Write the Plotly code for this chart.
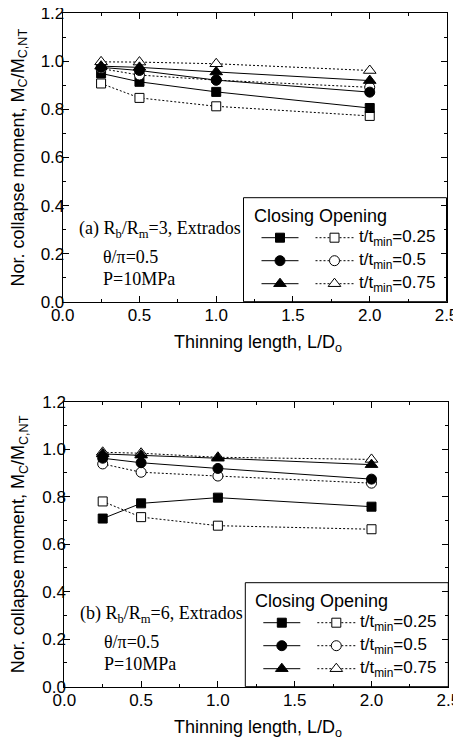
import plotly.graph_objects as go

# page body has an 8px margin: figure is drawn at (8, 8) in the 461x745 window
OFF = 8
W, H = 461 - OFF, 745 - OFF

# ---------------- data ----------------
L_over_D = [0.25, 0.5, 1.0, 2.0]

# panel (a) Rb/Rm=3
a_closing_025 = [0.950, 0.915, 0.873, 0.806]
a_opening_025 = [0.908, 0.848, 0.813, 0.773]
a_closing_05 = [0.975, 0.962, 0.922, 0.872]
a_opening_05 = [0.970, 0.943, 0.922, 0.892]
a_closing_075 = [0.980, 0.975, 0.956, 0.920]
a_opening_075 = [0.998, 0.997, 0.990, 0.962]

# panel (b) Rb/Rm=6
b_closing_025 = [0.708, 0.772, 0.796, 0.758]
b_opening_025 = [0.780, 0.714, 0.678, 0.663]
b_closing_05 = [0.962, 0.943, 0.919, 0.874]
b_opening_05 = [0.938, 0.903, 0.887, 0.857]
b_closing_075 = [0.980, 0.975, 0.962, 0.935]
b_opening_075 = [0.987, 0.983, 0.966, 0.957]

ratio_labels = ["0.25", "0.5", "0.75"]
symbols = ["square", "circle", "triangle-up"]
sizes = [9, 10, 11]

x_ticks = [0.0, 0.5, 1.0, 1.5, 2.0, 2.5]
y_ticks = [0.0, 0.2, 0.4, 0.6, 0.8, 1.0, 1.2]

panels = [
    dict(closing=[a_closing_025, a_closing_05, a_closing_075],
         opening=[a_opening_025, a_opening_05, a_opening_075],
         label="(a) R<sub>b</sub>/R<sub>m</sub>=3, Extrados",
         box=(62.7, 446.5, 13.3, 301.7)),
    dict(closing=[b_closing_025, b_closing_05, b_closing_075],
         opening=[b_opening_025, b_opening_05, b_opening_075],
         label="(b) R<sub>b</sub>/R<sub>m</sub>=6, Extrados",
         box=(64.3, 448.3, 401.7, 686.7)),
]

def px(x):
    return (x - OFF) / W

def py(y):
    return 1 - (y - OFF) / H

SANS = "Liberation Sans, Arial, sans-serif"
SERIF = "Liberation Serif, Times New Roman, serif"
DOT = "2px,2px"

fig = go.Figure()
shapes = []
annotations = []

for i, p in enumerate(panels):
    xa = "x" if i == 0 else "x2"
    ya = "y" if i == 0 else "y2"
    for k in range(3):
        fig.add_trace(go.Scatter(
            x=L_over_D, y=p["opening"][k], xaxis=xa, yaxis=ya, mode="lines+markers",
            line=dict(color="black", width=1, dash=DOT),
            marker=dict(symbol=symbols[k], size=sizes[k], color="white",
                        line=dict(color="black", width=1)),
            showlegend=False, hoverinfo="skip"))
        fig.add_trace(go.Scatter(
            x=L_over_D, y=p["closing"][k], xaxis=xa, yaxis=ya, mode="lines+markers",
            line=dict(color="black", width=1),
            marker=dict(symbol=symbols[k], size=sizes[k], color="black",
                        line=dict(color="black", width=1)),
            showlegend=False, hoverinfo="skip"))

    x0, x1, y0, y1 = p["box"]
    annotations.append(dict(x=px(x0 + 14), y=py(y1 - 72), xref="paper", yref="paper",
                            text=p["label"], showarrow=False, xanchor="left", yanchor="middle",
                            font=dict(family=SERIF, size=18, color="black")))
    annotations.append(dict(x=px(x0 + 38), y=py(y1 - 45), xref="paper", yref="paper",
                            text="θ/π=0.5", showarrow=False, xanchor="left", yanchor="middle",
                            font=dict(family=SERIF, size=18, color="black")))
    annotations.append(dict(x=px(x0 + 38), y=py(y1 - 23), xref="paper", yref="paper",
                            text="P=10MPa", showarrow=False, xanchor="left", yanchor="middle",
                            font=dict(family=SERIF, size=18, color="black")))
    annotations.append(dict(x=px(19), y=py((y0 + y1) / 2), xref="paper", yref="paper",
                            text="Nor. collapse moment, M<sub>C</sub>/M<sub>C,NT</sub>",
                            textangle=-90, showarrow=False, xanchor="center", yanchor="middle",
                            font=dict(family=SANS, size=18, color="black")))
    annotations.append(dict(x=px(258), y=py(y1 + 42), xref="paper", yref="paper",
                            text="Thinning length, L/D<sub>o</sub>",
                            showarrow=False, xanchor="center", yanchor="middle",
                            font=dict(family=SANS, size=18, color="black")))

    lx0 = x1 - 203
    ly0 = y1 - 104
    shapes.append(dict(type="rect", xref="paper", yref="paper",
                       x0=px(lx0), x1=px(x1), y0=py(y1), y1=py(ly0),
                       line=dict(color="black", width=1), fillcolor="rgba(0,0,0,0)", layer="above"))
    annotations.append(dict(x=px(lx0 + 8), y=py(ly0 + 18), xref="paper", yref="paper",
                            text="Closing Opening", showarrow=False, xanchor="left", yanchor="middle",
                            font=dict(family=SANS, size=18, color="black")))
    for k in range(3):
        ry = ly0 + 40 + 23 * k
        fig.add_trace(go.Scatter(
            x=[px(lx0 + 18), px(lx0 + 55)], y=[py(ry), py(ry)], xaxis="x3", yaxis="y3",
            mode="lines", line=dict(color="black", width=1), showlegend=False, hoverinfo="skip"))
        fig.add_trace(go.Scatter(
            x=[px(lx0 + 36.5)], y=[py(ry)], xaxis="x3", yaxis="y3", mode="markers",
            marker=dict(symbol=symbols[k], size=sizes[k], color="black",
                        line=dict(color="black", width=1)),
            showlegend=False, hoverinfo="skip"))
        fig.add_trace(go.Scatter(
            x=[px(lx0 + 72), px(lx0 + 110)], y=[py(ry), py(ry)], xaxis="x3", yaxis="y3",
            mode="lines", line=dict(color="black", width=1, dash=DOT), showlegend=False,
            hoverinfo="skip"))
        fig.add_trace(go.Scatter(
            x=[px(lx0 + 91)], y=[py(ry)], xaxis="x3", yaxis="y3", mode="markers",
            marker=dict(symbol=symbols[k], size=sizes[k], color="white",
                        line=dict(color="black", width=1)),
            showlegend=False, hoverinfo="skip"))
        annotations.append(dict(x=px(lx0 + 113), y=py(ry), xref="paper", yref="paper",
                                text="t/t<sub>min</sub>=" + ratio_labels[k], showarrow=False,
                                xanchor="left", yanchor="middle",
                                font=dict(family=SANS, size=17, color="black")))

def xaxis_cfg(box):
    x0, x1, y0, y1 = box
    return dict(domain=[px(x0), px(x1)], range=[0, 2.5], tickvals=x_ticks,
                ticktext=[f"{v:.1f}" for v in x_ticks],
                ticks="inside", ticklen=6, tickwidth=1, tickcolor="black",
                showline=True, linecolor="black", linewidth=1, mirror="allticks",
                showgrid=False, zeroline=False, ticklabelstandoff=-2,
                ticklabeloverflow="allow",
                minor=dict(ticks="inside", ticklen=3, tickwidth=1, tickcolor="black", dtick=0.25,
                           tick0=0, showgrid=False),
                tickfont=dict(family=SANS, size=17, color="black"), automargin=False)

def yaxis_cfg(box):
    x0, x1, y0, y1 = box
    return dict(domain=[py(y1), py(y0)], range=[0, 1.2], tickvals=y_ticks,
                ticktext=[f"{v:.1f}" for v in y_ticks],
                ticks="inside", ticklen=6, tickwidth=1, tickcolor="black",
                showline=True, linecolor="black", linewidth=1, mirror="allticks",
                showgrid=False, zeroline=False, ticklabelstandoff=-6,
                ticklabeloverflow="allow",
                minor=dict(ticks="inside", ticklen=3, tickwidth=1, tickcolor="black", dtick=0.1,
                           tick0=0, showgrid=False),
                tickfont=dict(family=SANS, size=17, color="black"), automargin=False)

fig.update_layout(
    width=W, height=H,
    margin=dict(l=0, r=0, t=0, b=0),
    paper_bgcolor="white", plot_bgcolor="rgba(0,0,0,0)",
    showlegend=False,
    xaxis=dict(xaxis_cfg(panels[0]["box"]), anchor="y"),
    yaxis=dict(yaxis_cfg(panels[0]["box"]), anchor="x"),
    xaxis2=dict(xaxis_cfg(panels[1]["box"]), anchor="y2"),
    yaxis2=dict(yaxis_cfg(panels[1]["box"]), anchor="x2"),
    xaxis3=dict(domain=[0, 1], range=[0, 1], visible=False, anchor="y3", fixedrange=True),
    yaxis3=dict(domain=[0, 1], range=[0, 1], visible=False, anchor="x3", fixedrange=True),
    shapes=shapes,
    annotations=annotations,
)

fig.write_html("out.html")
